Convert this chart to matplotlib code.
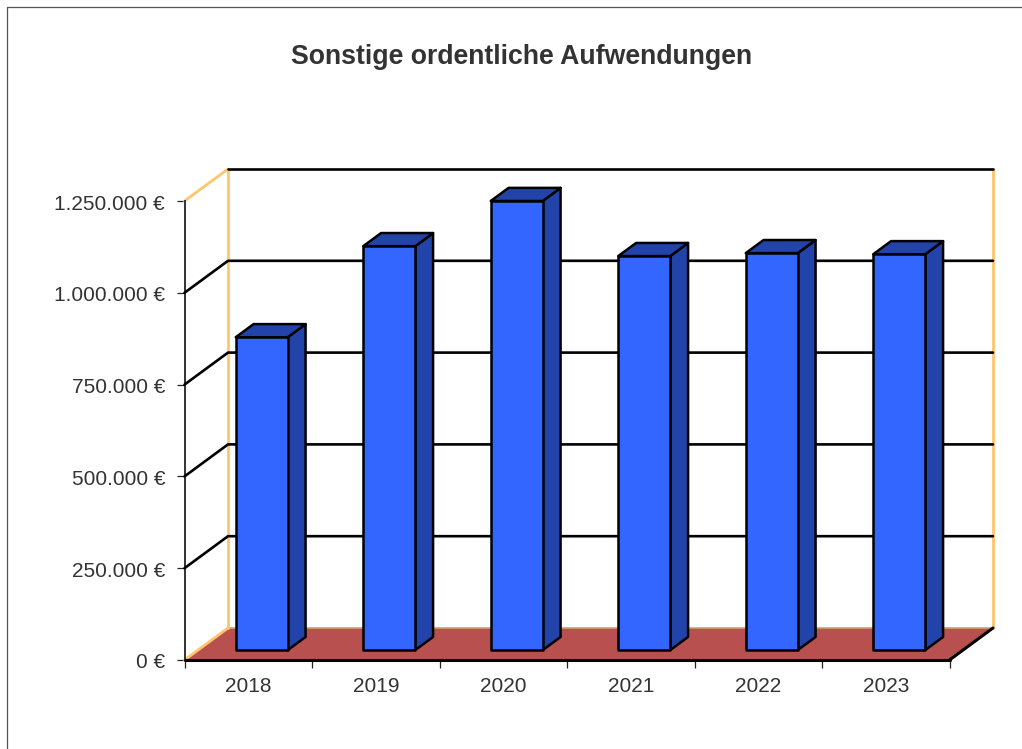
import matplotlib
matplotlib.use('Agg')
import matplotlib.pyplot as plt
from matplotlib.patches import Polygon
from matplotlib.lines import Line2D
from matplotlib.transforms import ScaledTranslation

years = ['2018', '2019', '2020', '2021', '2022', '2023']
values = [852000, 1100000, 1223000, 1073000, 1081000, 1078000]
y_ticks = [0, 250000, 500000, 750000, 1000000, 1250000]
y_labels = ['0 €', '250.000 €', '500.000 €', '750.000 €', '1.000.000 €', '1.250.000 €']

W, H = 1022, 749
ORANGE = '#FFC56B'
FLOOR = '#B85050'
FRONT = '#3366FF'
SHADE = '#2244AA'
TEXT = '#333333'

plt.rcParams['font.family'] = ['Liberation Sans', 'DejaVu Sans']

fig = plt.figure(figsize=(W / 100, H / 100), dpi=100)
ax = fig.add_axes([184.5 / W, 1 - 660 / H, 765 / W, 459 / H])
ax.set_xlim(0, len(years))
ax.set_ylim(0, 1250000)

# 3d depth in data units
dep_x = 43.5 / (765 / len(years))
dep_y = 32 / 459 * 1250000
bar_w = 0.408
bar_d0 = 0.31   # where the bar starts in the depth
bar_d1 = 0.72   # where it ends


def line(xs, ys, color='black', lw=1.9, z=2):
    ax.plot(xs, ys, color=color, lw=lw, clip_on=False, zorder=z, solid_capstyle='round')


n = len(years)
top = y_ticks[-1]

# floor
ax.add_patch(Polygon([(0, 0), (n, 0), (n + dep_x, dep_y), (dep_x, dep_y)],
                     facecolor=FLOOR, edgecolor='none', clip_on=False, zorder=1))
line([dep_x, n + dep_x], [dep_y, dep_y], color='#D2A070', lw=1.2, z=1.5)

# walls
line([dep_x, dep_x], [dep_y, top + dep_y], color=ORANGE, lw=2.0)
line([n + dep_x, n + dep_x], [dep_y, top + dep_y], color=ORANGE, lw=2.0)
line([0, dep_x], [0, dep_y], color=ORANGE, lw=2.0)
line([0, dep_x], [top, top + dep_y], color=ORANGE, lw=2.0)

# grid lines
for v in y_ticks[1:-1]:
    line([0, dep_x, n + dep_x], [v, v + dep_y, v + dep_y], z=2.5)
line([dep_x, n + dep_x], [top + dep_y, top + dep_y], z=2.5)

# floor edges
line([0, n], [0, 0], lw=2.2, z=3)
line([n, n + dep_x], [0, dep_y], lw=2.2, z=3)

# bars
for i, v in enumerate(values):
    x0 = i + 0.5 - bar_w / 2 + bar_d0 * dep_x
    x1 = x0 + bar_w
    y0 = bar_d0 * dep_y
    y1 = y0 + v
    ox = (bar_d1 - bar_d0) * dep_x
    oy = (bar_d1 - bar_d0) * dep_y
    kw = dict(edgecolor='black', linewidth=1.8, joinstyle='round', clip_on=False, zorder=4)
    ax.add_patch(Polygon([(x1, y0), (x1 + ox, y0 + oy), (x1 + ox, y1 + oy), (x1, y1)], facecolor=SHADE, **kw))
    ax.add_patch(Polygon([(x0, y1), (x1, y1), (x1 + ox, y1 + oy), (x0 + ox, y1 + oy)], facecolor=SHADE, **kw))
    ax.add_patch(Polygon([(x0, y0), (x1, y0), (x1, y1), (x0, y1)], facecolor=FRONT, **kw))

# axes
for s in ['top', 'right', 'bottom']:
    ax.spines[s].set_visible(False)
ax.spines['left'].set_color('#222222')
ax.spines['left'].set_linewidth(1.3)
ax.spines['left'].set_zorder(2.2)

ax.set_yticks(y_ticks)
ax.set_yticklabels(y_labels)
ax.set_xticks(range(n + 1))
ax.set_xticklabels([])
ax.set_xticks([i + 0.5 for i in range(n)], minor=True)
ax.set_xticklabels(years, minor=True)
ax.tick_params(axis='y', length=6, width=0.9, color='#222222', labelsize=15, labelcolor=TEXT, pad=8)
ax.tick_params(axis='x', which='major', length=6, width=0.9, color='#222222')
ax.tick_params(axis='x', which='minor', length=0, labelsize=15, labelcolor=TEXT, pad=12)

# y labels sit about a pixel lower in the reference
shift = ScaledTranslation(0, -1 / 100, fig.dpi_scale_trans)
for lab in ax.get_yticklabels()[1:]:
    lab.set_transform(lab.get_transform() + shift)

fig.text(522 / W, 1 - 56.5 / H, 'Sonstige ordentliche Aufwendungen', ha='center', va='center',
         fontsize=19.2, fontweight='bold', color=TEXT)

# outer frame, only top and left are visible
fig.add_artist(Line2D([7 / W, 7 / W, 1], [0, 1 - 7 / H, 1 - 7 / H], color='#555555', lw=0.9))

fig.savefig('out.png', dpi=100)
